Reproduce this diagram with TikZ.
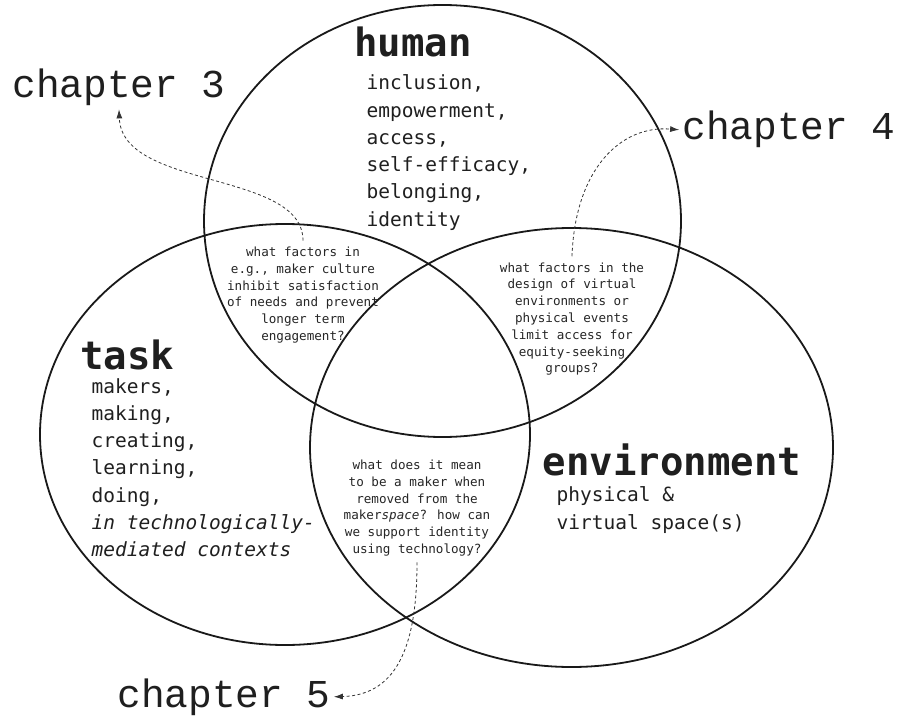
\documentclass[tikz,border=0pt]{standalone}
\usepackage{fontspec}
\newfontfamily\bodyfont{DejaVu Sans Mono}
\newfontfamily\chapfont{Liberation Mono}
\usetikzlibrary{arrows.meta}

\begin{document}
\begin{tikzpicture}[x=1pt,y=-1pt,
  ring/.style={draw=black!90, line width=1.8pt},
  heading/.style={font=\bodyfont\bfseries\fontsize{39}{44}\selectfont, anchor=base west, inner sep=0pt, text=black!88},
  items/.style={font=\bodyfont\fontsize{19.5}{27.2}\selectfont, align=left, anchor=base west, inner sep=0pt, text=black!88},
  question/.style={font=\bodyfont\fontsize{12.6}{16.8}\selectfont, align=center, inner sep=0pt, text=black!85},
  chapter/.style={font=\chapfont\fontsize{39.5}{44}\selectfont, anchor=base, inner sep=3pt, text=black!88},
  link/.style={draw=black!80, line width=0.8pt, dash pattern=on 3pt off 2.5pt, -{Latex[length=9pt,width=6pt]}}
]
\useasboundingbox[fill=white] (0,0) rectangle (901,719);

% the three overlapping areas
\draw[ring] (442.5,221) ellipse [x radius=238.5pt, y radius=216pt];
\draw[ring] (285,434.5) ellipse [x radius=245pt, y radius=210.5pt];
\draw[ring] (571.5,447.5) ellipse [x radius=261.5pt, y radius=219.5pt];

% human (item lists are placed by the baseline of their last line)
\node[heading] (human) at (354,57) {human};
\node[items] (humanitems) at (366.5,226) {inclusion,\\empowerment,\\access,\\self-efficacy,\\belonging,\\identity};

% task
\node[heading] (task) at (80,369) {task};
\node[items] (taskitems) at (91.5,556.5) {makers,\\making,\\creating,\\learning,\\doing,\\\textit{in technologically-}\\\textit{mediated contexts}};

% environment
\node[heading] (env) at (542.5,475) {environment};
\node[items] (envitems) at (556.5,529) {physical \&\\virtual space(s)};

% questions in the overlaps
\node[question] (q1) at (303,295) {what factors in\\e.g., maker culture\\inhibit satisfaction\\of needs and prevent\\longer term\\engagement?};
\node[question] (q2) at (572,319) {what factors in the\\design of virtual\\environments or\\physical events\\limit access for\\equity-seeking\\groups?};
\node[question] (q3) at (417,508) {what does it mean\\to be a maker when\\removed from the\\maker\textit{space}? how can\\we support identity\\using technology?};

% chapter labels
\node[chapter] (ch3) at (119,98) {chapter 3};
\node[chapter] (ch4) at (789,140) {chapter 4};
\node[chapter] (ch5) at (224,707) {chapter 5};

% links from questions to chapters
\draw[link] ([yshift=6pt]q1.north) .. controls (303,170) and (122,190) .. (ch3.south);
\draw[link] ([yshift=6pt]q2.north) .. controls (575,170) and (620,125) .. (ch4.west);
\draw[link] ([yshift=-6pt]q3.south) .. controls (417,640) and (400,695) .. (ch5.east);
\end{tikzpicture}
\end{document}
